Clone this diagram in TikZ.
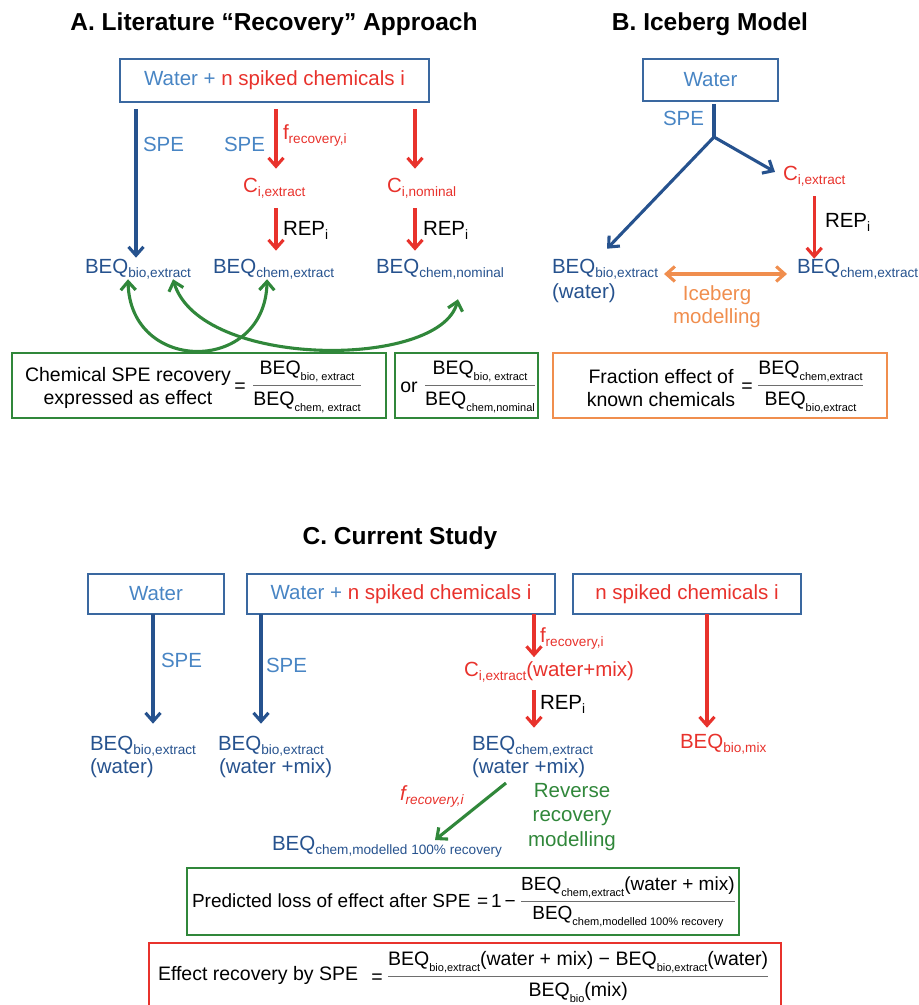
\documentclass[tikz,border=0pt]{standalone}
\usepackage{fontspec}
\setmainfont{Liberation Sans}
\usepackage{amsmath}
\usetikzlibrary{arrows.meta}
\definecolor{dblue}{RGB}{38,82,142}
\definecolor{lblue}{RGB}{72,133,196}
\definecolor{bxblue}{RGB}{58,104,160}
\definecolor{myred}{RGB}{232,50,44}
\definecolor{mygreen}{RGB}{48,135,58}
\definecolor{myorange}{RGB}{240,142,78}
\definecolor{bargray}{RGB}{110,110,110}
\newcommand\lsub[1]{\raisebox{-4.5pt}{\fontsize{13.6}{14}\selectfont #1}}
\newcommand\esub[1]{\raisebox{-6pt}{\fontsize{11}{12}\selectfont #1}}
\newcommand\efrac[2]{\textcolor{bargray}{$\genfrac{}{}{1.2pt}{0}{\hbox{\color{black}#1}}{\hbox{\color{black}#2}}$}}
\begin{document}
\begin{tikzpicture}[x=1pt,y=-1pt,
  tx/.style={inner sep=0pt, outer sep=0pt, font=\fontsize{20.5}{23}\selectfont},
  lab/.style={tx, anchor=base west},
  ttl/.style={inner sep=0pt, font=\fontsize{24.5}{28}\selectfont\bfseries},
  eqt/.style={inner sep=0pt, outer sep=0pt, font=\fontsize{19.5}{23}\selectfont},
  eqs/.style={inner sep=0pt, outer sep=0pt, font=\fontsize{19}{23}\selectfont},
  bx/.style={tx, draw=bxblue, line width=2pt},
  tip/.tip={Straight Barb[length=8.5pt,width=15pt]},
  arB/.style={dblue, line width=3.1pt, -tip},
  arR/.style={myred, line width=3.1pt, -tip},
  arG/.style={mygreen, line width=3.1pt, tip-tip},
  arG1/.style={mygreen, line width=3.1pt, -tip},
  arO/.style={myorange, line width=3.1pt, tip-tip},
  gbox/.style={draw=mygreen, line width=2pt},
  obox/.style={draw=myorange, line width=2pt},
  rbox/.style={draw=myred, line width=2pt},
]
\useasboundingbox (0,0) rectangle (919,1005);

% ---------------- Panel A ----------------
\node[ttl] (tA) at (274,24) {A. Literature “Recovery” Approach};
\node[bx, minimum width=309pt, minimum height=43pt] (wA) at (274.5,80.5)
  {\textcolor{lblue}{Water +} \textcolor{myred}{n spiked chemicals i}};
\node[lab, text=dblue] (bqA1) at (85,273) {BEQ\lsub{bio,extract}};
\node[lab, text=dblue] (bqA2) at (213,273) {BEQ\lsub{chem,extract}};
\node[lab, text=dblue] (bqA3) at (376,273) {BEQ\lsub{chem,nominal}};
\node[lab, text=myred] (cA2) at (243,192) {C\lsub{i,extract}};
\node[lab, text=myred] (cA3) at (387,192) {C\lsub{i,nominal}};
\node[lab, text=lblue] (spA1) at (143,151) {SPE};
\node[lab, text=lblue] (spA2) at (224,151) {SPE};
\node[lab, text=myred] (frA) at (283,139) {f\lsub{recovery,i}};
\node[lab] (repA2) at (283,235) {REP\lsub{i}};
\node[lab] (repA3) at (423,235) {REP\lsub{i}};
\coordinate (xa1) at (136,0);
\coordinate (xa2) at (276,0);
\coordinate (xa3) at (415,0);
\draw[arB, shorten <=7pt, shorten >=1pt] (wA.south -| xa1) -- (bqA1.north -| xa1);
\draw[arR, shorten <=7pt, shorten >=9pt] (wA.south -| xa2) -- (cA2.north -| xa2);
\draw[arR, shorten <=10pt, shorten >=8pt] (cA2.south -| xa2) -- (bqA2.north -| xa2);
\draw[arR, shorten <=7pt, shorten >=9pt] (wA.south -| xa3) -- (cA3.north -| xa3);
\draw[arR, shorten <=10pt, shorten >=8pt] (cA3.south -| xa3) -- (bqA3.north -| xa3);
\draw[arG] ([xshift=-10pt]bqA1.south) .. controls +(2,95) and +(-2,95) .. ([xshift=-6.5pt]bqA2.south);
\draw[arG] ([xshift=35pt]bqA1.south) .. controls +(27,90) and +(-18,70) .. ([xshift=18pt,yshift=-20pt]bqA3.south);
\draw[gbox] (12,353) rectangle (386,418);
\draw[gbox] (395,353) rectangle (538,418);
\node[eqt, align=center] (eqA1t) at (128,388) {Chemical SPE recovery\\expressed as effect};
\node[eqt, anchor=base] (eqA1e) at (240,392.5) {=};
\node[eqt, anchor=base] (eqA1f) at (307,391) {\efrac{BEQ\esub{bio, extract}}{BEQ\esub{chem, extract}}};
\node[eqt, anchor=base] (eqA2o) at (409,392) {or};
\node[eqt, anchor=base] (eqA2f) at (480,391) {\efrac{BEQ\esub{bio, extract}}{BEQ\esub{chem,nominal}}};

% ---------------- Panel B ----------------
\node[ttl] (tB) at (710,24) {B. Iceberg Model};
\node[bx, minimum width=135pt, minimum height=42pt, text=lblue] (wB) at (710.5,80) {Water};
\coordinate (split) at (714,137);
\draw[dblue, line width=3.1pt, shorten <=3pt] (wB.south -| split) -- (split);
\node[lab, text=lblue] (spB) at (663,125) {SPE};
\node[lab, text=myred] (cB) at (783,180) {C\lsub{i,extract}};
\node[lab, text=dblue] (bqB1) at (552,273) {BEQ\lsub{bio,extract}};
\node[lab, text=dblue] (wtB) at (552,298) {(water)};
\node[lab, text=dblue] (bqB2) at (797,273) {BEQ\lsub{chem,extract}};
\node[lab] (repB) at (825,227) {REP\lsub{i}};
\draw[arB] (split) -- ([xshift=2pt,yshift=10pt]bqB1.north);
\draw[arB] (split) -- ([xshift=-8pt,yshift=4pt]cB.west);
\draw[arR, shorten <=10pt] (cB.south) -- (cB.south |- bqB2.north);
\draw[arO] ([xshift=6pt,yshift=-5pt]bqB1.east) -- ([xshift=-10pt,yshift=-5pt]bqB2.west);
\node[tx, text=myorange, align=center] (ice) at (717,306.5) {Iceberg\\modelling};
\draw[obox] (553,353) rectangle (887,418);
\node[eqt, align=center] (eqBt) at (661,388) {Fraction effect of\\known chemicals};
\node[eqt, anchor=base] (eqBe) at (747,392.5) {=};
\node[eqt, anchor=base] (eqBf) at (810.5,391) {\efrac{BEQ\esub{chem,extract}}{BEQ\esub{bio,extract}}};

% ---------------- Panel C ----------------
\node[ttl] (tC) at (400,538) {C. Current Study};
\node[bx, minimum width=136pt, minimum height=40pt, text=lblue] (w1C) at (156,594) {Water};
\node[bx, minimum width=308pt, minimum height=40pt] (w2C) at (401,594)
  {\textcolor{lblue}{Water +} \textcolor{myred}{n spiked chemicals i}};
\node[bx, minimum width=228pt, minimum height=40pt, text=myred] (w3C) at (687,594) {n spiked chemicals i};
\coordinate (xc1) at (153,0);
\coordinate (xc2) at (261,0);
\coordinate (xc3) at (534,0);
\coordinate (xc5) at (707,0);
\node[lab, text=dblue] (bqC1) at (90,750) {BEQ\lsub{bio,extract}};
\node[lab, text=dblue] (wC1) at (90,773) {(water)};
\node[lab, text=dblue] (bqC2) at (218,750) {BEQ\lsub{bio,extract}};
\node[lab, text=dblue] (wC2) at (219,773) {(water +mix)};
\node[lab, text=lblue] (spC1) at (161,667) {SPE};
\node[lab, text=lblue] (spC2) at (266,672) {SPE};
\draw[arB, shorten >=12pt] (w1C.south -| xc1) -- (bqC1.north -| xc1);
\draw[arB, shorten >=12pt] (w2C.south -| xc2) -- (bqC2.north -| xc2);
\node[lab, text=myred] (frC) at (540,642) {f\lsub{recovery,i}};
\node[lab, text=myred] (cC) at (464,676) {C\lsub{i,extract}(water+mix)};
\node[lab] (repC) at (540,709) {REP\lsub{i}};
\node[lab, text=dblue] (bqC3) at (472,750) {BEQ\lsub{chem,extract}};
\node[lab, text=dblue] (wC3) at (472,773) {(water +mix)};
\draw[arR, shorten >=4pt] (w2C.south -| xc3) -- (cC.north -| xc3);
\draw[arR, shorten <=8pt, shorten >=8pt] (cC.south -| xc3) -- (bqC3.north -| xc3);
\node[lab, text=myred] (bqC4) at (680,748) {BEQ\lsub{bio,mix}};
\draw[arR, shorten >=6pt] (w3C.south -| xc5) -- (bqC4.north -| xc5);
\node[lab, text=myred] (frC2) at (400,800) {\itshape f\lsub{recovery,i}};
\node[lab, text=dblue] (bqC5) at (272,850) {BEQ\lsub{chem,modelled 100\% recovery}};
\draw[arG1] ([xshift=34pt,yshift=-10pt]wC3.base west) -- ([xshift=163pt,yshift=10pt]bqC5.base west);
\node[tx, text=mygreen, align=center, font=\fontsize{20.5}{24.5}\selectfont] (rrm) at (572,817) {Reverse\\recovery\\modelling};

\draw[gbox] (187,868) rectangle (739,935);
\node[eqs, anchor=base west] (eqC1t) at (192,907) {Predicted loss of effect after SPE};
\node[eqs, anchor=base west] (eqC1e) at (477,907.5) {=\kern3pt 1\kern3pt −};
\node[eqs, anchor=base west] (eqC1f) at (520,906) {\efrac{BEQ\esub{chem,extract}(water + mix)}{BEQ\esub{chem,modelled 100\% recovery}}};

\draw[rbox] (149,1005) -- (149,943) -- (781,943) -- (781,1005);
\node[eqt, anchor=base west] (eqC2t) at (158,980) {Effect recovery by SPE};
\node[eqt, anchor=base] (eqC2e) at (377,983.5) {=};
\node[eqt, anchor=base west] (eqC2f) at (387,982) {\efrac{BEQ\esub{bio,extract}(water + mix) − BEQ\esub{bio,extract}(water)}{BEQ\esub{bio}(mix)}};
\end{tikzpicture}
\end{document}
